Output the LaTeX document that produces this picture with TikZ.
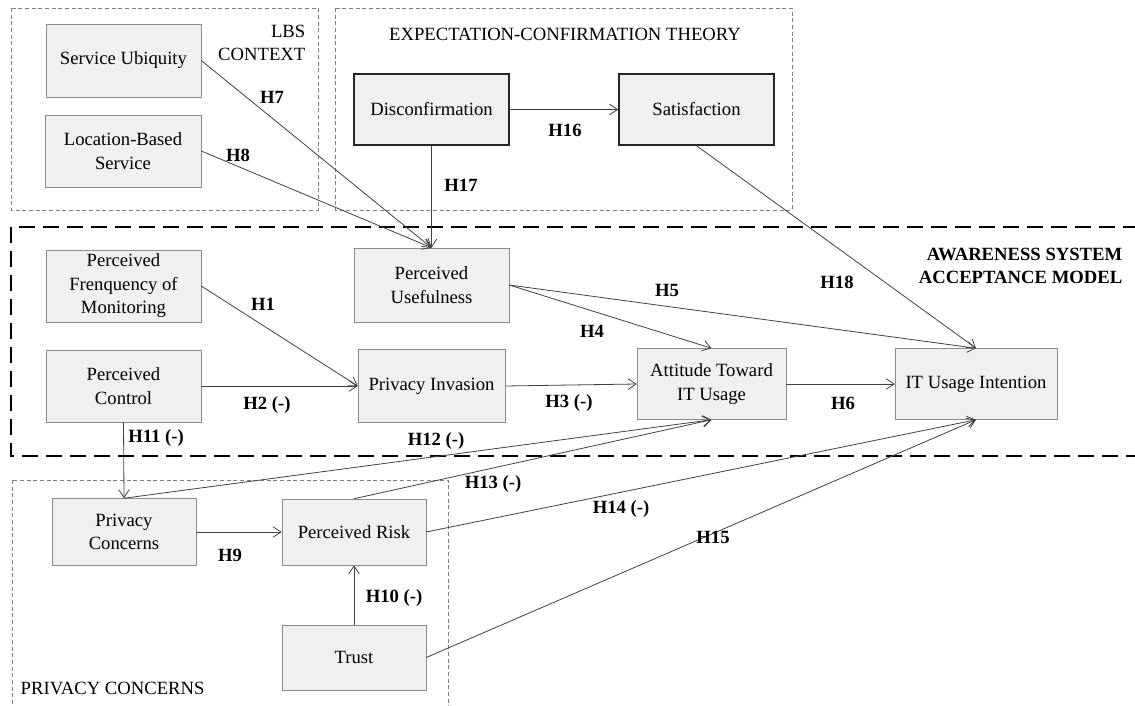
\documentclass[tikz,border=0pt]{standalone}
\usepackage{fontspec}
\setmainfont{Liberation Serif}
\usetikzlibrary{arrows.meta}

\begin{document}
\begin{tikzpicture}[
        x=0.75pt, y=-0.75pt,
        every node/.style={font=\fontsize{14}{17.6}\selectfont},
        box/.style={draw=black!45, fill=black!6, align=center, inner sep=2pt},
        keybox/.style={box, draw=black!85, line width=1.1pt},
        sz/.style 2 args={minimum width=#1*0.75pt, minimum height=#2*0.75pt},
        group/.style={draw=black!50, dash pattern=on 3pt off 2pt, line width=0.5pt},
        model/.style={draw=black, dash pattern=on 12pt off 6pt, line width=2pt},
        hyp/.style={font=\fontsize{14}{17.6}\selectfont\bfseries},
        link/.style={draw=black!75, line width=0.6pt, -{Straight Barb[length=6pt,width=8pt]}}
    ]
    \useasboundingbox (0,0) rectangle (1135,706);

    % theory groups
    \draw[group] (11,8) rectangle (318,210);
    \draw[group] (335,8) rectangle (792,210);
    \draw[group] (12,480) rectangle (448,720);
    \draw[model] (11,227) rectangle (1150,456);

    \node[anchor=north east, align=right] (lbslabel) at (310,20) {LBS\\CONTEXT};
    \node (ectlabel) at (565,34) {EXPECTATION-CONFIRMATION THEORY};
    \node[anchor=north east, align=right, font=\fontsize{14}{17.6}\selectfont\bfseries] (asamlabel) at (1127,243) {AWARENESS SYSTEM\\ACCEPTANCE MODEL};
    \node[anchor=west] (pclabel) at (16,688) {PRIVACY CONCERNS};

    % constructs
    \node[box, sz={155}{73}] (ubiq) at (123.5,60.5) {Service Ubiquity};
    \node[box, sz={156}{72}] (lbs) at (123,151) {Location-Based\\Service};
    \node[keybox, sz={155}{71}] (disc) at (431.5,109.5) {Disconfirmation};
    \node[keybox, sz={155}{71}] (satis) at (696.5,109.5) {Satisfaction};
    \node[box, sz={155}{72}] (pfm) at (123.5,286) {Perceived\\Frenquency of\\Monitoring};
    \node[box, sz={155}{72}] (pctrl) at (123.5,386) {Perceived\\Control};
    \node[box, sz={155}{74}] (pu) at (431.5,285) {Perceived\\Usefulness};
    \node[box, sz={147}{73}] (pinv) at (431.5,386) {Privacy Invasion};
    \node[box, sz={149}{71}] (att) at (711.5,384) {Attitude Toward\\IT Usage};
    \node[box, sz={162}{71}] (itu) at (976,384) {IT Usage Intention};
    \node[box, sz={144}{67}] (pcon) at (124,532) {Privacy\\Concerns};
    \node[box, sz={144}{66}] (prisk) at (354,532) {Perceived Risk};
    \node[box, sz={144}{65}] (trust) at (354,657.5) {Trust};

    % hypotheses
    \draw[link] (ubiq.east) -- (pu.north);
    \draw[link] (lbs.east) -- (pu.north);
    \draw[link] (disc.south) -- (pu.north);
    \draw[link] (disc.east) -- (satis.west);
    \draw[link] (satis.south) -- (itu.north);
    \draw[link] (pfm.east) -- (pinv.west);
    \draw[link] (pctrl.east) -- (pinv.west);
    \draw[link] (pinv.east) -- (att.west);
    \draw[link] (pu.east) -- (att.north);
    \draw[link] (pu.east) -- (itu.north);
    \draw[link] (att.east) -- (itu.west);
    \draw[link] (pctrl.south) -- (pcon.north);
    \draw[link] (pcon.north) -- (att.south);
    \draw[link] (prisk.north) -- (att.south);
    \draw[link] (prisk.east) -- (itu.south);
    \draw[link] (trust.east) -- (itu.south);
    \draw[link] (pcon.east) -- (prisk.west);
    \draw[link] (trust.north) -- (prisk.south);

    \node[hyp] (h7) at (272,97) {H7};
    \node[hyp] (h8) at (238,155) {H8};
    \node[hyp] (h17) at (461,185) {H17};
    \node[hyp] (h16) at (565,130) {H16};
    \node[hyp] (h18) at (837,282) {H18};
    \node[hyp] (h1) at (263,304) {H1};
    \node[hyp] (h2) at (267,405) {H2 (-)};
    \node[hyp] (h3) at (569,403) {H3 (-)};
    \node[hyp] (h4) at (592,331) {H4};
    \node[hyp] (h5) at (667,290) {H5};
    \node[hyp] (h6) at (843,403) {H6};
    \node[hyp] (h11) at (156,438) {H11 (-)};
    \node[hyp] (h12) at (436,441) {H12 (-)};
    \node[hyp] (h13) at (493,484) {H13 (-)};
    \node[hyp] (h14) at (621,509) {H14 (-)};
    \node[hyp] (h15) at (713,537) {H15};
    \node[hyp] (h9) at (230,555) {H9};
    \node[hyp] (h10) at (394,598) {H10 (-)};
\end{tikzpicture}
\end{document}
